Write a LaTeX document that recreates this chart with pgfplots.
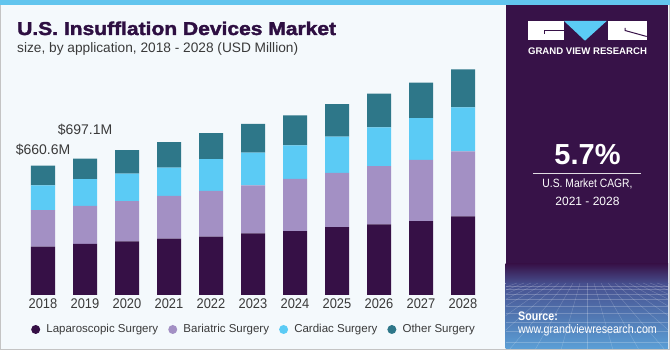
\documentclass[border=0pt]{standalone}
\usepackage{pgfplots}
\pgfplotsset{compat=1.18}
\usepackage{pgfplotstable}
\usepackage{fontspec}
\setmainfont{Liberation Sans}
\newfontfamily\titlefont{Liberation Sans}[UprightFont=* Bold, FakeStretch=1.13, FakeBold=2]
\newfontfamily\tickfont{Liberation Sans}[FakeStretch=0.92]
\newfontfamily\narrowfont{Liberation Sans}[FakeStretch=0.86]
\definecolor{lap}{HTML}{361046}
\definecolor{bari}{HTML}{A390C4}
\definecolor{card}{HTML}{5BCBF5}
\definecolor{oth}{HTML}{2E7789}
\definecolor{panel}{HTML}{371248}
\definecolor{bgc}{HTML}{F4F9FC}
\definecolor{topblue}{HTML}{62C5EE}
\definecolor{titlec}{HTML}{2E0F42}
\definecolor{txt}{HTML}{3A3A3A}
\definecolor{gridA}{HTML}{47508F}
\definecolor{gridB}{HTML}{5B9FD6}
\definecolor{bordc}{HTML}{C4C4C4}

\pgfplotstableread{
x lap bari card other
0 247 187 126 100.6
1 261 194 137 105.1
2 274 206 140 120
3 288 218 145 130
4 298 234 162 133
5 315 245 167 147
6 327 266 172 153
7 347 277 186 165
8 361 298 198 172
9 378 313 213 182
10 402 332 225 194
}\datatable

\begin{document}
\begin{tikzpicture}[x=1pt,y=1pt]
\useasboundingbox (0,0) rectangle (670,350);
% backgrounds
\fill[bgc] (0,0) rectangle (670,350);
\fill[panel] (505.7,0) rectangle (668,345);
\shade[top color=panel, bottom color=gridA] (505.7,66) rectangle (668,86);
\shade[top color=gridA, bottom color=gridB] (505.7,1) rectangle (668,66.2);
\begin{scope}
\clip (505.7,1) rectangle (668,67);
\foreach \yy in {64,60.5,56,50.5,44,36.5,28,18.5,8} {
  \draw[white, opacity=0.22, line width=0.4pt] (505.7,\yy) -- (668,\yy);
}
\foreach \k in {-10,...,10} {
  \draw[white, opacity=0.22, line width=0.4pt] (587+\k*7,67) -- (587+\k*26,0);
}
\end{scope}
\fill[topblue] (0,345) rectangle (670,350);
\draw[bordc, line width=1pt] (0.5,345) -- (0.5,0.5) -- (669.5,0.5) -- (669.5,345);

% logo
\fill[white] (527.7,329) rectangle (564,310);
\draw[panel, line width=1pt] (564,319) -- (544,319) -- (544,315.5);
\fill[card] (564,329) -- (606.7,329) -- (585,309.3) -- cycle;
\fill[white] (607.7,329) rectangle (646.7,310);
\draw[panel, line width=1pt] (625,322) -- (625,319.5) -- (646.7,313.5);
\node[white, font=\bfseries\fontsize{9.6}{10}\selectfont, inner sep=0pt] at (587.5,298.3) {GRAND VIEW RESEARCH};

% CAGR
\node[white, font=\bfseries\fontsize{29}{30}\selectfont, inner sep=0pt] at (587.5,195) {5.7\%};
\draw[white!85!panel, line width=1pt] (533,176.7) -- (640.7,176.7);
\node[white, font=\narrowfont\fontsize{12}{13}\selectfont, inner sep=0pt] at (587.5,165.7) {U.S. Market CAGR,};
\node[white, font=\fontsize{12}{13}\selectfont, inner sep=0pt] at (587.5,149) {2021 - 2028};

% source
\node[white, font=\narrowfont\bfseries\fontsize{12.4}{13}\selectfont, inner sep=0pt, anchor=west] at (518,33.3) {Source:};
\node[white, font=\narrowfont\fontsize{12.4}{13}\selectfont, inner sep=0pt, anchor=west] at (518,20) {www.grandviewresearch.com};

% titles
\node[titlec, font=\titlefont\fontsize{18.6}{20}\selectfont, inner sep=0pt, anchor=base west] at (17,315) {U.S. Insufflation Devices Market};
\node[txt, font=\fontsize{13.7}{15}\selectfont, inner sep=0pt, anchor=base west] at (17,297) {size, by application, 2018 - 2028 (USD Million)};

\begin{axis}[
  at={(13.6pt,55pt)}, anchor=south west,
  scale only axis, width=478.8pt, height=234.8pt,
  xmin=-0.7, xmax=10.7, ymin=0, ymax=1200,
  enlargelimits=false, clip=false,
  ybar stacked, bar width=24pt,
  axis line style={draw=none},
  ytick=\empty,
  xtick={0,...,10},
  xticklabels={2018,2019,2020,2021,2022,2023,2024,2025,2026,2027,2028},
  major tick length=0pt,
  xticklabel style={font=\tickfont\fontsize{14}{14}\selectfont, text=txt, inner sep=0pt, yshift=-3.3pt},
  legend columns=4,
  legend style={at={(axis description cs:0.0363,-0.1469)}, anchor=west, draw=none, fill=none, inner sep=0pt,
    font=\fontsize{11.5}{12}\selectfont, text=txt, nodes={inner sep=0pt},
    /tikz/every odd column/.append style={column sep=6.2pt},
    /tikz/every even column/.append style={column sep=10pt}},
  legend image code/.code={\fill[#1] (4.5pt,0pt) circle (4.5pt);},
]
\addplot[fill=lap, draw=none] table[x=x, y=lap] {\datatable};
\addplot[fill=bari, draw=none] table[x=x, y=bari] {\datatable};
\addplot[fill=card, draw=none] table[x=x, y=card] {\datatable};
\addplot[fill=oth, draw=none] table[x=x, y=other] {\datatable};
\legend{Laparoscopic Surgery, Bariatric Surgery, Cardiac Surgery, Other Surgery}
\node[txt, font=\fontsize{14}{14}\selectfont, inner sep=0pt] at (axis cs:0,742) {\$660.6M};
\node[txt, font=\fontsize{14}{14}\selectfont, inner sep=0pt] at (axis cs:1,842) {\$697.1M};
\end{axis}
\end{tikzpicture}
\end{document}
